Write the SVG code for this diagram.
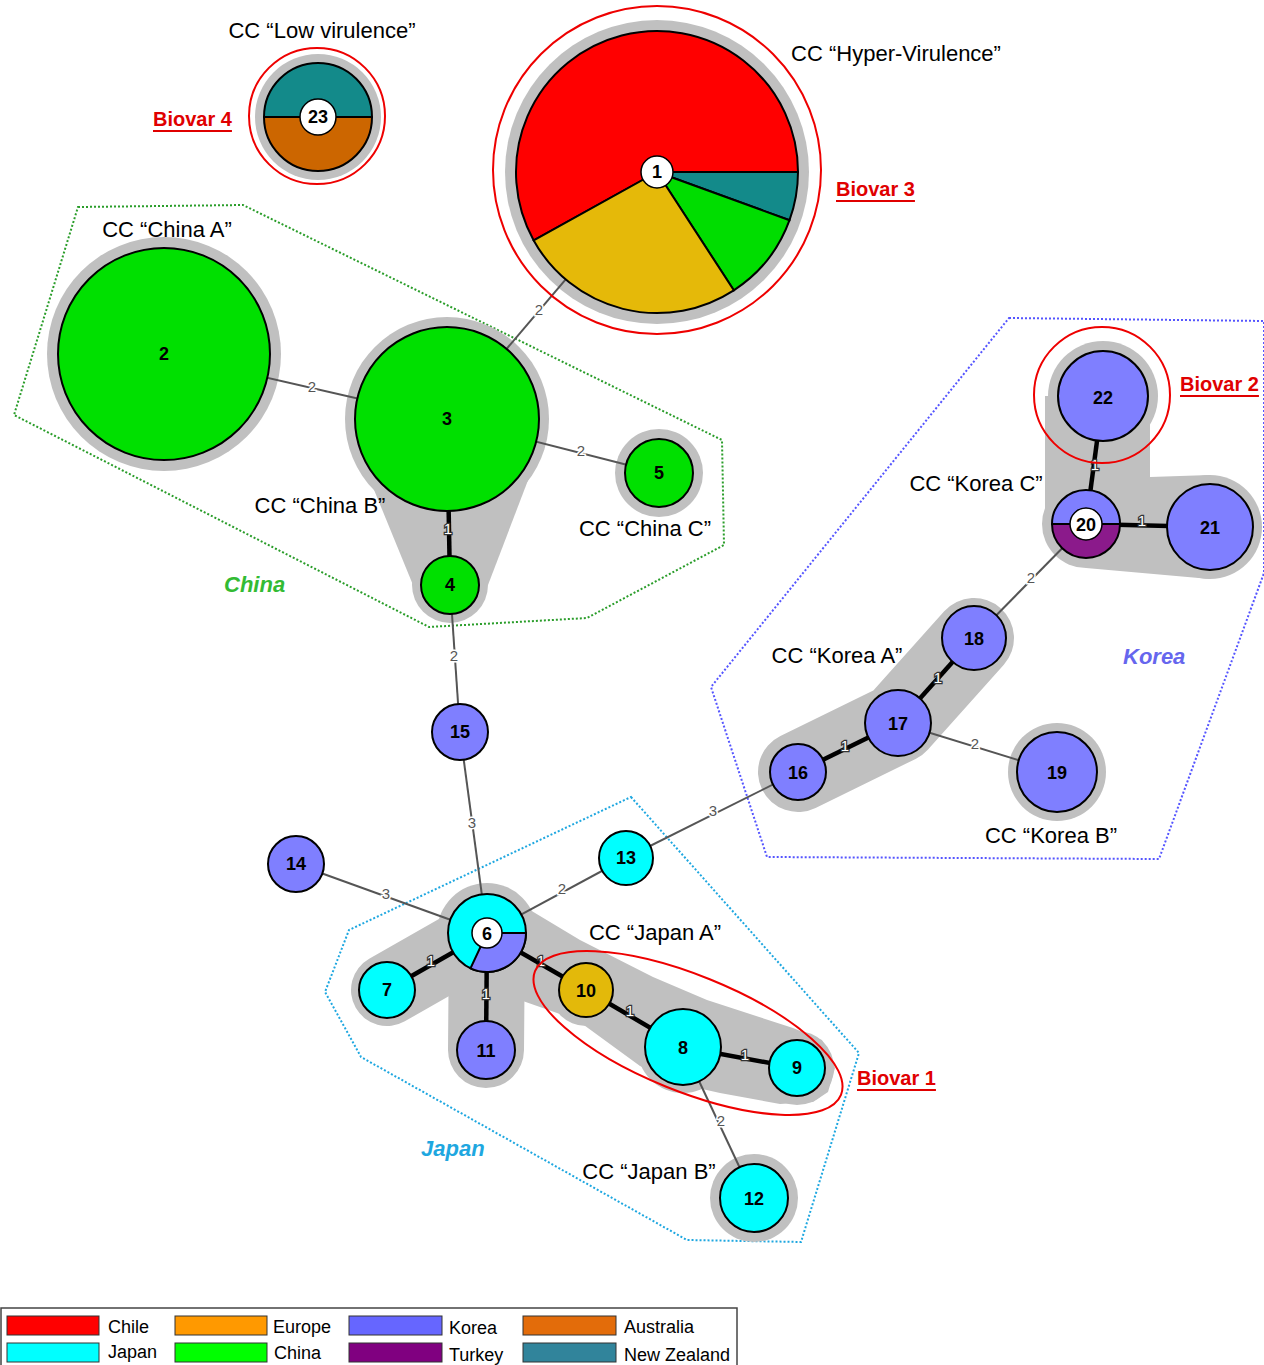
<svg xmlns="http://www.w3.org/2000/svg" width="1264" height="1365" viewBox="0 0 1264 1365">
<style>
.halo{fill:#c0c0c0}
.hl{stroke:#c0c0c0;stroke-linecap:round;fill:none}
.thin{stroke:#555;stroke-width:2}
.thick{stroke:#000;stroke-width:4.5}
.nd{stroke:#000;stroke-width:2}
.ko{fill:#7f7fff}
.ja{fill:#00ffff}
.cn{fill:#00e000}
.wc{fill:#fff;stroke:#000;stroke-width:1.5}
.nl{font-family:"Liberation Sans",Arial,sans-serif;font-weight:bold;font-size:18px;text-anchor:middle;dominant-baseline:central;fill:#000}
.el{font-family:"Liberation Sans",Arial,sans-serif;font-size:15px;text-anchor:middle;dominant-baseline:central;fill:#555;stroke:#fff;stroke-width:3;paint-order:stroke}
.e1{font-family:"Liberation Sans",Arial,sans-serif;font-size:15px;text-anchor:middle;dominant-baseline:central;fill:#fff;stroke:#333;stroke-width:2.5;paint-order:stroke}
.cc{font-family:"Liberation Sans",Arial,sans-serif;font-size:22px;text-anchor:middle;dominant-baseline:central;fill:#000}
.bv{font-family:"Liberation Sans",Arial,sans-serif;font-size:20px;font-weight:bold;text-decoration:underline;fill:#e00000;dominant-baseline:central}
.rg{font-family:"Liberation Sans",Arial,sans-serif;font-size:22px;font-weight:bold;font-style:italic;dominant-baseline:central}
.lg{font-family:"Liberation Sans",Arial,sans-serif;font-size:18px;fill:#000;dominant-baseline:central}
.red{fill:none;stroke:#ee0000;stroke-width:2}
</style>

<g id="regions">
<polygon points="78,207 243,205 722,440 724,545 587,618 429,627 14,415" fill="none" stroke="#2a9d2a" stroke-width="2" stroke-dasharray="2,2"/>
<polygon points="1009,318 1264,321 1264,573 1159,859 767,857 711,687" fill="none" stroke="#5555ff" stroke-width="2" stroke-dasharray="2,2"/>
<polygon points="631,797 859,1053 801,1242 687,1240 361,1057 325,992 349,930" fill="none" stroke="#1ea7e0" stroke-width="2" stroke-dasharray="2,2"/>
</g>

<g id="halos">
<circle class="halo" cx="318" cy="117" r="63"/>
<circle class="halo" cx="657" cy="172" r="152"/>
<circle class="halo" cx="164" cy="354" r="117"/>
<circle class="halo" cx="447" cy="419" r="102"/>
<circle class="halo" cx="450" cy="585" r="38"/>
<polygon class="halo" points="370,480 413,585 488,585 530,475"/>
<circle class="halo" cx="659" cy="473" r="44"/>
<circle class="halo" cx="754" cy="1198" r="44"/>
<circle class="halo" cx="1057" cy="772" r="49"/>
<circle class="halo" cx="487" cy="933" r="50"/>
<line class="hl" x1="487" y1="933" x2="387" y2="990" stroke-width="72"/>
<line class="hl" x1="487" y1="933" x2="486" y2="1050" stroke-width="76"/>
<polygon class="halo" points="505,895 580,940 653,977 707,1000 793,1028 822,1040 835,1068 828,1092 813,1102 780,1104 720,1093 680,1084 640,1066 577,1020 520,1000"/>
<circle class="halo" cx="586" cy="990" r="36"/>
<circle class="halo" cx="683" cy="1047" r="46"/>
<circle class="halo" cx="797" cy="1068" r="37"/>
<polyline class="hl" points="798,772 898,723 974,638" stroke-width="80" stroke-linejoin="round"/>
<circle class="halo" cx="1103" cy="396" r="55"/>
<circle class="halo" cx="1086" cy="524" r="44"/>
<circle class="halo" cx="1210" cy="527" r="52"/>
<polygon class="halo" points="1045,396 1150,396 1150,477 1210,475 1210,579 1086,568 1045,524"/>
</g>

<g id="connectors">
<line class="thin" x1="657" y1="172" x2="447" y2="419"/>
<line class="thin" x1="164" y1="354" x2="447" y2="419"/>
<line class="thin" x1="447" y1="419" x2="659" y2="473"/>
<line class="thin" x1="450" y1="585" x2="460" y2="732"/>
<line class="thin" x1="460" y1="732" x2="487" y2="933"/>
<line class="thin" x1="296" y1="864" x2="487" y2="933"/>
<line class="thin" x1="487" y1="933" x2="626" y2="858"/>
<line class="thin" x1="626" y1="858" x2="798" y2="772"/>
<line class="thin" x1="683" y1="1047" x2="754" y2="1198"/>
<line class="thin" x1="898" y1="723" x2="1057" y2="772"/>
<line class="thin" x1="974" y1="638" x2="1086" y2="524"/>
<line class="thick" x1="447" y1="419" x2="450" y2="585"/>
<line class="thick" x1="487" y1="933" x2="387" y2="990"/>
<line class="thick" x1="487" y1="933" x2="486" y2="1050"/>
<line class="thick" x1="487" y1="933" x2="586" y2="990"/>
<line class="thick" x1="586" y1="990" x2="683" y2="1047"/>
<line class="thick" x1="683" y1="1047" x2="797" y2="1068"/>
<line class="thick" x1="798" y1="772" x2="898" y2="723"/>
<line class="thick" x1="898" y1="723" x2="974" y2="638"/>
<line class="thick" x1="1086" y1="524" x2="1103" y2="396"/>
<line class="thick" x1="1086" y1="524" x2="1210" y2="527"/>
<text class="el" x="539" y="309">2</text>
<text class="el" x="312" y="386">2</text>
<text class="el" x="581" y="450">2</text>
<text class="el" x="454" y="655">2</text>
<text class="el" x="472" y="822">3</text>
<text class="el" x="386" y="893">3</text>
<text class="el" x="562" y="888">2</text>
<text class="el" x="713" y="810">3</text>
<text class="el" x="721" y="1120">2</text>
<text class="el" x="975" y="743">2</text>
<text class="el" x="1031" y="577">2</text>
<text class="e1" x="448" y="528">1</text>
<text class="e1" x="431" y="960">1</text>
<text class="e1" x="486" y="993">1</text>
<text class="e1" x="541" y="960">1</text>
<text class="e1" x="630" y="1010">1</text>
<text class="e1" x="745" y="1054">1</text>
<text class="e1" x="845" y="745">1</text>
<text class="e1" x="938" y="677">1</text>
<text class="e1" x="1095" y="464">1</text>
<text class="e1" x="1142" y="520">1</text>
</g>

<g id="node23">
<path d="M264,117 A54,54 0 0 1 372,117 Z" fill="#138a8a" class="nd"/>
<path d="M264,117 A54,54 0 0 0 372,117 Z" fill="#cc6600" class="nd"/>
<circle class="wc" cx="318" cy="117" r="18"/>
<text class="nl" x="318" y="117">23</text>
</g>
<g id="node1">
<path d="M657,172 L533.7,240.4 A141,141 0 1 1 798,172 Z" fill="#ff0000" class="nd"/>
<path d="M657,172 L798,172 A141,141 0 0 1 789.5,220.2 Z" fill="#138a8a" class="nd"/>
<path d="M657,172 L789.5,220.2 A141,141 0 0 1 733.8,290.3 Z" fill="#00dd00" class="nd"/>
<path d="M657,172 L733.8,290.3 A141,141 0 0 1 533.7,240.4 Z" fill="#e5b909" class="nd"/>
<circle class="wc" cx="657" cy="172" r="16"/>
<text class="nl" x="657" y="172">1</text>
</g>
<g id="node2"><circle class="nd cn" cx="164" cy="354" r="106"/><text class="nl" x="164" y="354">2</text></g>
<g id="node3"><circle class="nd cn" cx="447" cy="419" r="92"/><text class="nl" x="447" y="419">3</text></g>
<g id="node4"><circle class="nd cn" cx="450" cy="585" r="29"/><text class="nl" x="450" y="585">4</text></g>
<g id="node5"><circle class="nd cn" cx="659" cy="473" r="34"/><text class="nl" x="659" y="473">5</text></g>
<g id="node15"><circle class="nd ko" cx="460" cy="732" r="28"/><text class="nl" x="460" y="732">15</text></g>
<g id="node14"><circle class="nd ko" cx="296" cy="864" r="28"/><text class="nl" x="296" y="864">14</text></g>
<g id="node13"><circle class="nd ja" cx="626" cy="858" r="27"/><text class="nl" x="626" y="858">13</text></g>
<g id="node6">
<circle class="nd ja" cx="487" cy="933" r="39"/>
<path d="M487,933 L526,933 A39,39 0 0 1 470.5,968.3 Z" fill="#7f7fff" class="nd"/>
<circle class="wc" cx="487" cy="933" r="15"/>
<text class="nl" x="487" y="934">6</text>
</g>
<g id="node7"><circle class="nd ja" cx="387" cy="990" r="28"/><text class="nl" x="387" y="990">7</text></g>
<g id="node11"><circle class="nd ko" cx="486" cy="1050" r="29"/><text class="nl" x="486" y="1051">11</text></g>
<g id="node10"><circle class="nd" fill="#e3b90a" cx="586" cy="990" r="27"/><text class="nl" x="586" y="991">10</text></g>
<g id="node8"><circle class="nd ja" cx="683" cy="1047" r="38"/><text class="nl" x="683" y="1048">8</text></g>
<g id="node9"><circle class="nd ja" cx="797" cy="1068" r="28"/><text class="nl" x="797" y="1068">9</text></g>
<g id="node12"><circle class="nd ja" cx="754" cy="1198" r="34"/><text class="nl" x="754" y="1199">12</text></g>
<g id="node16"><circle class="nd ko" cx="798" cy="772" r="28"/><text class="nl" x="798" y="773">16</text></g>
<g id="node17"><circle class="nd ko" cx="898" cy="723" r="33"/><text class="nl" x="898" y="724">17</text></g>
<g id="node18"><circle class="nd ko" cx="974" cy="638" r="32"/><text class="nl" x="974" y="639">18</text></g>
<g id="node19"><circle class="nd ko" cx="1057" cy="772" r="40"/><text class="nl" x="1057" y="773">19</text></g>
<g id="node20">
<path d="M1052,524 A34,34 0 0 1 1120,524 Z" fill="#7f7fff" class="nd"/>
<path d="M1052,524 A34,34 0 0 0 1120,524 Z" fill="#8b1a8b" class="nd"/>
<circle class="wc" cx="1086" cy="524" r="16"/>
<text class="nl" x="1086" y="525">20</text>
</g>
<g id="node21"><circle class="nd ko" cx="1210" cy="527" r="43"/><text class="nl" x="1210" y="528">21</text></g>
<g id="node22"><circle class="nd ko" cx="1103" cy="396" r="45"/><text class="nl" x="1103" y="398">22</text></g>

<g id="biovars">
<circle class="red" cx="317" cy="116" r="68"/>
<circle class="red" cx="657" cy="170" r="164"/>
<circle class="red" cx="1102" cy="395" r="68"/>
<ellipse class="red" cx="688" cy="1033" rx="165" ry="58" transform="rotate(22 688 1033)"/>
<text class="bv" x="153" y="119">Biovar 4</text>
<text class="bv" x="836" y="189">Biovar 3</text>
<text class="bv" x="1180" y="384">Biovar 2</text>
<text class="bv" x="857" y="1078">Biovar 1</text>
</g>

<g id="labels">
<text class="cc" x="322" y="30">CC “Low virulence”</text>
<text class="cc" x="896" y="53">CC “Hyper-Virulence”</text>
<text class="cc" x="167" y="229">CC “China A”</text>
<text class="cc" x="320" y="505">CC “China B”</text>
<text class="cc" x="645" y="528">CC “China C”</text>
<text class="cc" x="976" y="483">CC “Korea C”</text>
<text class="cc" x="837" y="655">CC “Korea A”</text>
<text class="cc" x="1051" y="835">CC “Korea B”</text>
<text class="cc" x="655" y="932">CC “Japan A”</text>
<text class="cc" x="649" y="1171">CC “Japan B”</text>
<text class="rg" x="224" y="584" fill="#33bb33">China</text>
<text class="rg" x="1123" y="656" fill="#6666ee">Korea</text>
<text class="rg" x="421" y="1148" fill="#1ea7e0">Japan</text>
</g>

<g id="legend">
<rect x="1" y="1308" width="736" height="60" fill="#fff" stroke="#444" stroke-width="1.5"/>
<rect x="7" y="1316" width="92" height="19" fill="#ff0000" stroke="#333"/>
<rect x="7" y="1343" width="92" height="19" fill="#00ffff" stroke="#333"/>
<rect x="175" y="1316" width="92" height="19" fill="#ff9900" stroke="#333"/>
<rect x="175" y="1343" width="92" height="19" fill="#00ff00" stroke="#333"/>
<rect x="349" y="1316" width="93" height="19" fill="#6666ff" stroke="#333"/>
<rect x="349" y="1343" width="93" height="19" fill="#800080" stroke="#333"/>
<rect x="523" y="1316" width="93" height="19" fill="#e36c0a" stroke="#333"/>
<rect x="523" y="1343" width="93" height="19" fill="#31849b" stroke="#333"/>
<text class="lg" x="108" y="1327">Chile</text>
<text class="lg" x="108" y="1352">Japan</text>
<text class="lg" x="273" y="1327">Europe</text>
<text class="lg" x="274" y="1353">China</text>
<text class="lg" x="449" y="1328">Korea</text>
<text class="lg" x="449" y="1355">Turkey</text>
<text class="lg" x="624" y="1327">Australia</text>
<text class="lg" x="624" y="1355">New Zealand</text>
</g>
</svg>
